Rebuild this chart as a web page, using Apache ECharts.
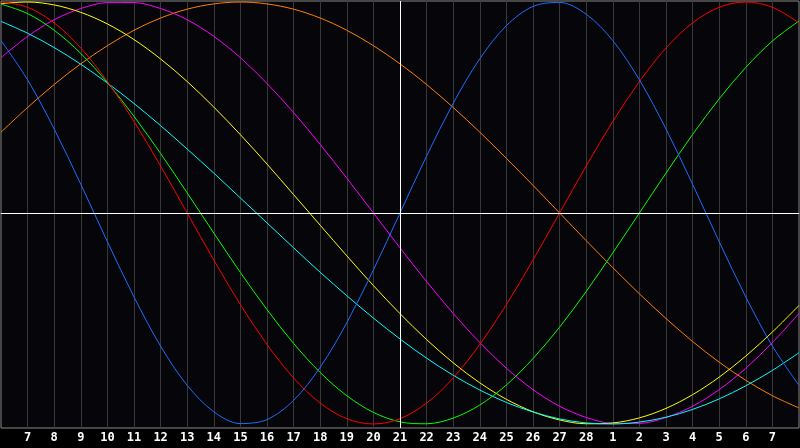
<!DOCTYPE html>
<html lang="en">
<head>
    <meta charset="UTF-8">
    <title>Biorhythm</title>
    <script src="https://cdn.jsdelivr.net/npm/echarts@6/dist/echarts.min.js"></script>
    <style>
        html, body { margin: 0; padding: 0; background: #000; }
    </style>
</head>
<body>
<div id="chart" style="width: 800px; height: 448px;"></div>
<script>
    const days = ['6', '7', '8', '9', '10', '11', '12', '13', '14', '15', '16', '17', '18', '19', '20', '21',
        '22', '23', '24', '25', '26', '27', '28', '1', '2', '3', '4', '5', '6', '7', '8'];

    const blue = [81.7, 63.1, 39.8, 13.6, -13.6, -39.8, -63.1, -81.7, -94.2, -99.8, -97.9, -88.8, -73.1, -52.0, -27.0, 0,
        27.0, 52.0, 73.1, 88.8, 97.9, 99.8, 94.2, 81.7, 63.1, 39.8, 13.6, -13.6, -39.8, -63.1, -81.7];
    const red = [100, 97.5, 90.1, 78.2, 62.3, 43.4, 22.3, 0, -22.3, -43.4, -62.3, -78.2, -90.1, -97.5, -100, -97.5,
        -90.1, -78.2, -62.3, -43.4, -22.3, 0, 22.3, 43.4, 62.3, 78.2, 90.1, 97.5, 100, 97.5, 90.1];
    const green = [99.0, 94.5, 86.6, 75.6, 61.8, 45.8, 28.2, 9.5, -9.5, -28.2, -45.8, -61.8, -75.6, -86.6, -94.5, -99.0,
        -99.9, -97.2, -91.0, -81.5, -69.0, -54.1, -37.2, -18.9, 0, 18.9, 37.2, 54.1, 69.0, 81.5, 91.0];
    const magenta = [73.6, 83.7, 91.6, 96.9, 99.7, 99.7, 96.9, 91.6, 83.7, 73.6, 61.4, 47.6, 32.5, 16.5, 0, -16.5,
        -32.5, -47.6, -61.4, -73.6, -83.7, -91.6, -96.9, -99.7, -99.7, -96.9, -91.6, -83.7, -73.6, -61.4, -47.6];
    const yellow = [99.2, 100, 98.6, 95.1, 89.6, 82.2, 73.0, 62.3, 50.2, 37.1, 23.2, 8.7, -5.8, -20.3, -34.4, -47.7,
        -60.0, -71.0, -80.5, -88.3, -94.2, -98.1, -99.9, -99.5, -97.1, -92.6, -86.1, -77.8, -67.8, -56.4, -43.8];
    const cyan = [90.8, 85.2, 78.4, 70.5, 61.6, 51.9, 41.4, 30.3, 18.9, 7.1, -4.7, -16.5, -28.1, -39.2, -49.8, -59.7,
        -68.8, -76.9, -83.9, -89.8, -94.3, -97.6, -99.5, -100, -99.1, -96.8, -93.1, -88.1, -81.9, -74.6, -66.2];
    const orange = [38.3, 50.0, 60.9, 70.7, 79.3, 86.6, 92.4, 96.6, 99.1, 100, 99.1, 96.6, 92.4, 86.6, 79.3, 70.7,
        60.9, 50.0, 38.3, 25.9, 13.1, 0, -13.1, -25.9, -38.3, -50.0, -60.9, -70.7, -79.3, -86.6, -92.4];

    const chart = echarts.init(document.querySelector('#chart'));

    function line(data, color) {
        return {
            type: 'line',
            data: data,
            smooth: 0.33,
            symbol: 'none',
            silent: true,
            lineStyle: { color: color, width: 1 }
        };
    }

    const series = [
        line(orange, '#ff8000'),
        line(magenta, '#ff00ff'),
        line(yellow, '#ffff00'),
        line(cyan, '#00ffff'),
        line(green, '#00ff00'),
        line(red, '#ff0000'),
        line(blue, '#1e6eff')
    ];

    // center cross (today)
    series[0].markLine = {
        silent: true,
        symbol: 'none',
        label: { show: false },
        lineStyle: { color: '#ffffff', type: 'solid', width: 1 },
        data: [{ xAxis: 15 }, { yAxis: 0 }]
    };

    chart.setOption({
        animation: false,
        backgroundColor: '#000000',
        grid: {
            left: 1, right: 1, top: 1, bottom: 20,
            show: true,
            backgroundColor: '#05050a',
            borderColor: '#8a8a8a',
            borderWidth: 1
        },
        xAxis: {
            type: 'category',
            data: days,
            boundaryGap: false,
            axisLine: { show: true, lineStyle: { color: '#9a9a9a', width: 1 } },
            axisTick: { show: false },
            splitLine: { show: true, lineStyle: { color: '#383838', width: 1 } },
            axisLabel: {
                color: '#ffffff',
                fontFamily: 'DejaVu Sans Mono',
                fontWeight: 'bold',
                fontSize: 12,
                margin: 4,
                interval: (i) => i > 0 && i < days.length - 1
            }
        },
        yAxis: {
            type: 'value',
            min: -101.9,
            max: 100.47,
            show: false,
            splitLine: { show: false }
        },
        series: series
    });
</script>
</body>
</html>
